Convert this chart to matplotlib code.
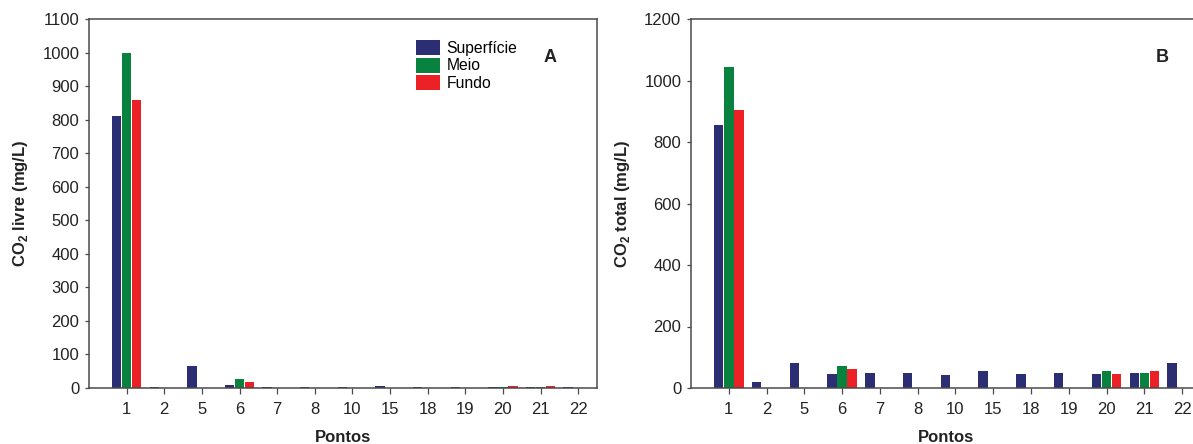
import numpy as np
import matplotlib
matplotlib.use("Agg")
import matplotlib.pyplot as plt

plt.rcParams["font.family"] = ["Liberation Sans", "DejaVu Sans"]
plt.rcParams["mathtext.fontset"] = "custom"
plt.rcParams["mathtext.rm"] = "Liberation Sans"
plt.rcParams["mathtext.bf"] = "Liberation Sans:bold"

# Sampling points
pontos = ["1", "2", "5", "6", "7", "8", "10", "15", "18", "19", "20", "21", "22"]
camadas = ["Superfície", "Meio", "Fundo"]
nan = np.nan

# Free CO2 (mg/L)
livre_superficie = [810, 3, 65, 8, 3, 3, 3, 7, 3, 3, 3, 3, 3]
livre_meio = [1000, nan, nan, 26, nan, nan, nan, nan, nan, nan, 4, 3, nan]
livre_fundo = [860, nan, nan, 17, nan, nan, nan, nan, nan, nan, 5, 5, nan]

# Total CO2 (mg/L)
total_superficie = [855, 18, 80, 47, 50, 50, 41, 54, 47, 48, 47, 49, 80]
total_meio = [1045, nan, nan, 70, nan, nan, nan, nan, nan, nan, 54, 48, nan]
total_fundo = [905, nan, nan, 62, nan, nan, nan, nan, nan, nan, 44, 54, nan]

cores = ["#2b2e72", "#0a823f", "#ec2128"]
spine_color = "#4a4a4a"

fig = plt.figure(figsize=(11.93, 4.44), dpi=100)
ax_a = fig.add_axes([89 / 1193, 1 - 388 / 444, 508 / 1193, 369 / 444])
ax_b = fig.add_axes([691 / 1193, 1 - 388 / 444, 510 / 1193, 369 / 444])

x = np.arange(len(pontos))
offset = 0.267
width = 0.25


def draw_panel(ax, series, ylim, yticks, ylabel, letter, letter_x):
    for i, (vals, cor, nome) in enumerate(zip(series, cores, camadas)):
        ax.bar(x + (i - 1) * offset, vals, width, color=cor, label=nome,
               edgecolor="none", zorder=2)
    ax.set_xlim(-1.0, len(pontos) - 0.5)
    ax.set_ylim(*ylim)
    ax.set_yticks(yticks)
    ax.set_xticks(x)
    ax.set_xticklabels(pontos)
    for s in ax.spines.values():
        s.set_color(spine_color)
        s.set_linewidth(1.1)
    ax.tick_params(axis="y", direction="out", length=3, width=0.9,
                   color=spine_color, labelsize=12, labelcolor="#222222", pad=4)
    ax.tick_params(axis="x", direction="out", length=4, width=0.9,
                   color=spine_color, labelsize=12, labelcolor="#222222", pad=6)
    ax.set_ylabel(ylabel, fontsize=12, fontweight="bold", color="#222222",
                  va="center")
    ax.yaxis.set_label_coords(-0.135, 0.5)
    ax.set_xlabel("Pontos", fontsize=12, fontweight="bold", color="#222222",
                  va="center")
    ax.xaxis.set_label_coords(0.5, -50 / 369)
    ax.text(letter_x, 0.897, letter, transform=ax.transAxes, fontsize=13,
            fontweight="bold", ha="center", va="center", color="#222222")


draw_panel(ax_a, [livre_superficie, livre_meio, livre_fundo], (0, 1100),
           np.arange(0, 1101, 100), "CO$_\\mathbf{2}$ livre (mg/L)", "A", 0.907)
draw_panel(ax_b, [total_superficie, total_meio, total_fundo], (0, 1200),
           np.arange(0, 1201, 200), "CO$_\\mathbf{2}$ total (mg/L)", "B", 0.924)

ax_a.legend(loc="upper left", bbox_to_anchor=((416 - 89) / 508, (388 - 40) / 369),
            frameon=False, fontsize=11.3, borderpad=0, borderaxespad=0,
            handlelength=1.55, handleheight=1.12, labelspacing=0.1,
            handletextpad=0.4)

fig.savefig("out.png", dpi=100)
